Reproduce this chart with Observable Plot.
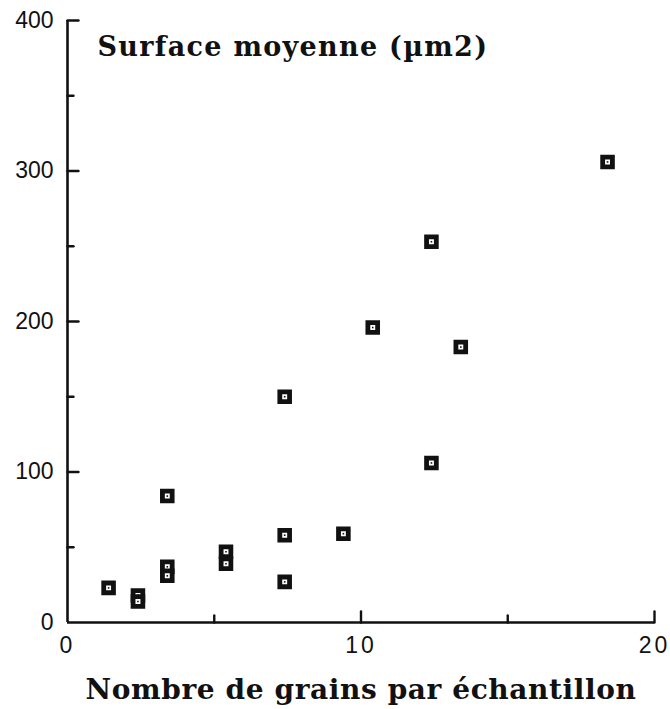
<!DOCTYPE html>
<html>
<head>
<meta charset="utf-8">
<script src="https://cdn.jsdelivr.net/npm/d3@7"></script>
<script src="https://cdn.jsdelivr.net/npm/@observablehq/plot@0.6"></script>
<style>
  html, body { margin: 0; padding: 0; background: #fff; }
  svg { display: block; }
</style>
</head>
<body>
<div id="chart"></div>
<script>
// Data
const grains  = [1.4, 2.4, 2.4, 3.4, 3.4, 3.4, 5.4, 5.4, 7.4, 7.4, 7.4, 9.4, 10.4, 12.4, 12.4, 13.4, 18.4];
const surface = [23, 18, 14, 84, 37, 31, 47, 39, 150, 58, 27, 59, 196, 253, 106, 183, 306];

const xMajorTicks = [10, 20];
const xMinorTicks = [5, 15];
const xTickLabels = [0, 10, 20];
const yMajorTicks = [100, 200, 300, 400];
const yMinorTicks = [50, 150, 250, 350];
const yTickLabels = [0, 100, 200, 300, 400];

const title = "Surface moyenne (\u00b5m2)";
const xLabel = "Nombre de grains par \u00e9chantillon";

const data = grains.map((g, i) => ({x: g, y: surface[i]}));

const serif = "'DejaVu Serif', 'Liberation Serif', serif";
const sans = "'Liberation Sans', Arial, sans-serif";

// straight tick shape for Plot.vector (drawn from anchor along the vector direction)
const tickShape = {draw(context, l) { context.moveTo(0, 0); context.lineTo(0, -l); }};

const chart = Plot.plot({
  width: 670,
  height: 709,
  marginLeft: 67,
  marginRight: 16,
  marginTop: 20,
  marginBottom: 87,
  style: {fontFamily: sans, background: "#fff", color: "#111"},
  x: {domain: [0, 20], label: null},
  y: {domain: [0, 400], label: null},
  marks: [
    // axis lines
    Plot.ruleY([0], {x1: 0, x2: 20, stroke: "#111", strokeWidth: 2.6}),
    Plot.ruleX([0], {y1: 0, y2: 400, stroke: "#111", strokeWidth: 2.6}),
    // inward ticks
    Plot.vector(xMajorTicks, {x: d => d, frameAnchor: "bottom", length: 11, rotate: 0, anchor: "start", shape: tickShape, stroke: "#111", strokeWidth: 2.4}),
    Plot.vector(xMinorTicks, {x: d => d, frameAnchor: "bottom", length: 7, rotate: 0, anchor: "start", shape: tickShape, stroke: "#111", strokeWidth: 2.4}),
    Plot.vector(yMajorTicks, {y: d => d, frameAnchor: "left", length: 11, rotate: 90, anchor: "start", shape: tickShape, stroke: "#111", strokeWidth: 2.4}),
    Plot.vector(yMinorTicks, {y: d => d, frameAnchor: "left", length: 6, rotate: 90, anchor: "start", shape: tickShape, stroke: "#111", strokeWidth: 2.4}),
    // tick labels
    Plot.axisX({ticks: xTickLabels, tickSize: 0, tickPadding: 14, fontSize: 23, label: null, tickFormat: d => String(d), fill: "#111"}),
    Plot.axisY({ticks: yTickLabels, tickSize: 0, tickPadding: 14, fontSize: 23, label: null, tickFormat: d => String(d), fill: "#111"}),
    // title inside the frame
    Plot.text([title], {frameAnchor: "top-left", lineAnchor: "middle", dx: 30, dy: 27, text: d => d, fontFamily: serif, fontWeight: "bold", fontSize: 27, textAnchor: "start", fill: "#111"}),
    // x label below
    Plot.text([xLabel], {frameAnchor: "bottom", lineAnchor: "middle", dy: 68, text: d => d, fontFamily: serif, fontWeight: "bold", fontSize: 28, fill: "#111"}),
    // markers
    Plot.dot(data, {x: "x", y: "y", symbol: "square", r: 5.5, fill: "#fff", stroke: "#111", strokeWidth: 4.8}),
    Plot.dot(data, {x: "x", y: "y", symbol: "square", r: 0.9, fill: "#111"})
  ]
});

// letter spacing to match the reference typography
d3.select(chart).selectAll("text").each(function() {
  const t = this.textContent;
  if (t === title) this.setAttribute("letter-spacing", "1.3");
  else if (t === xLabel) this.setAttribute("letter-spacing", "0.6");
});
d3.select(chart).selectAll("g[aria-label='x-axis tick label'] text").attr("letter-spacing", "3");

document.getElementById("chart").appendChild(chart);
</script>
</body>
</html>
